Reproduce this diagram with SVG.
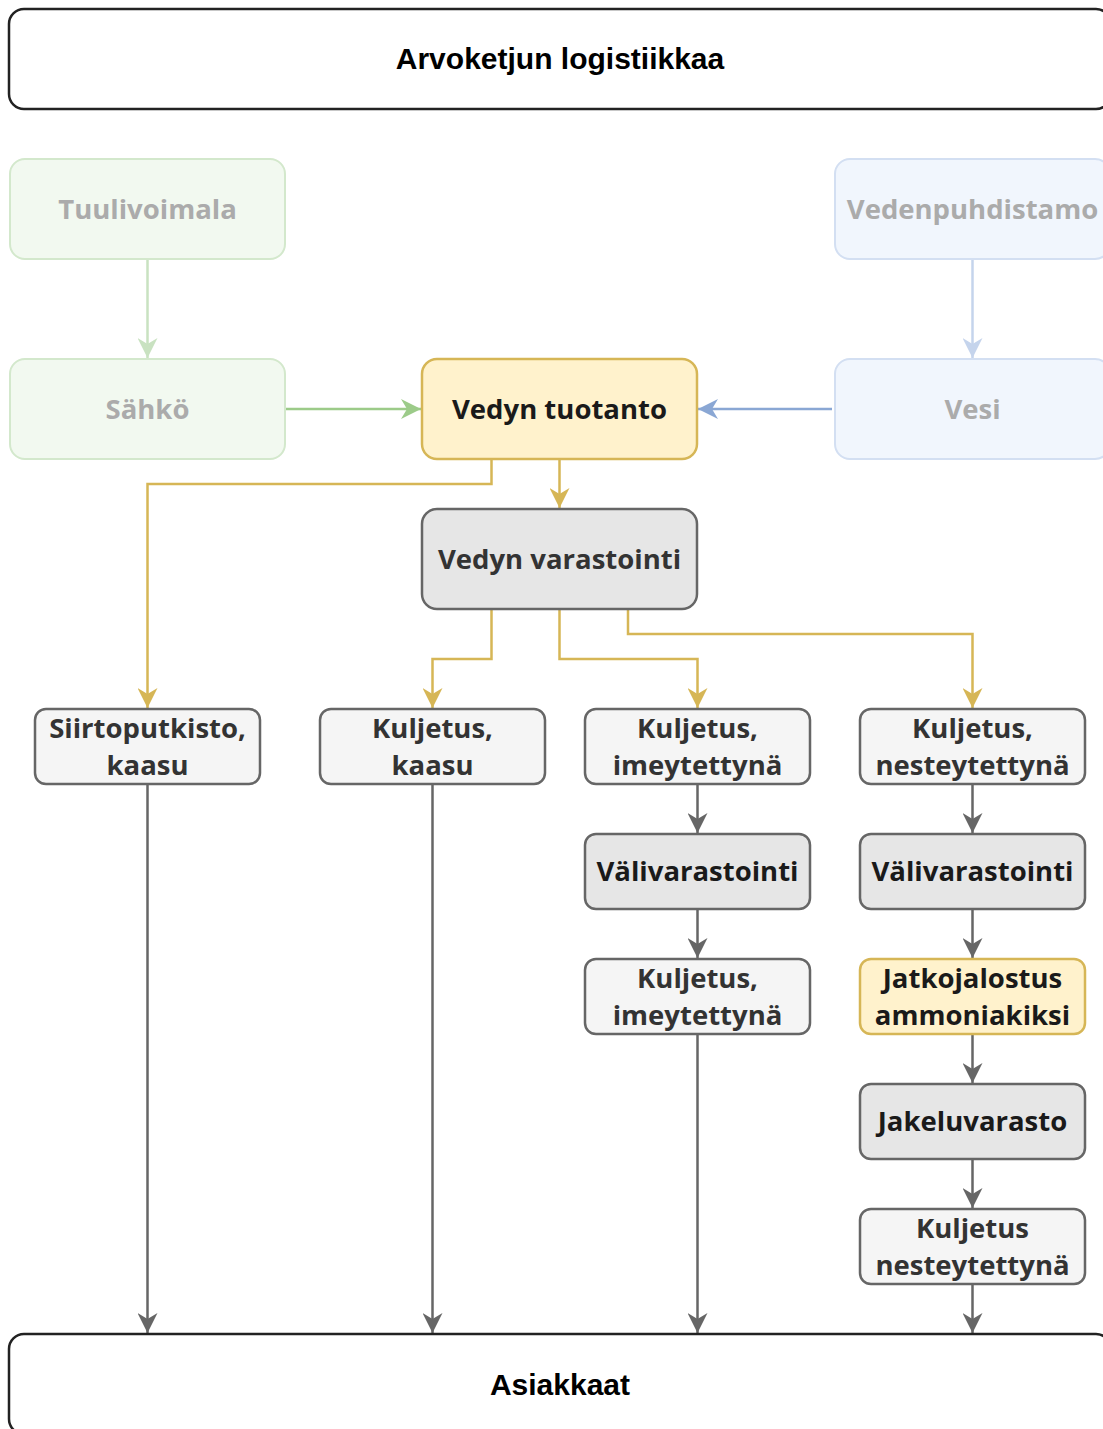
<svg xmlns="http://www.w3.org/2000/svg" width="1103" height="1429" viewBox="0 0 1103 1429">
<style>
.t{font-family:"Open Sans","DejaVu Sans",sans-serif;font-weight:700;font-size:27.5px;text-anchor:middle}
.a{font-family:"Liberation Sans",Arial,sans-serif;font-weight:700;font-size:30px;text-anchor:middle;fill:#000}
.frame{fill:#fff;stroke:#222;stroke-width:2.5}
.fg{fill:#f2f9f0;stroke:#d3e8cc;stroke-width:2}
.fb{fill:#f1f6fd;stroke:#d3dff2;stroke-width:2}
.y{fill:#fff2cc;stroke:#d6b656;stroke-width:2.5}
.g{fill:#e6e6e6;stroke:#666;stroke-width:2.5}
.l{fill:#f5f5f5;stroke:#666;stroke-width:2.5}
.ft{fill:#ababab}
.dk{fill:#1a1a1a}
.md{fill:#333}
.c{fill:none;stroke-width:2.5}
</style>
<defs>
<marker id="mGold" viewBox="0 0 20 20" refX="20" refY="10" markerWidth="20" markerHeight="20" markerUnits="userSpaceOnUse" orient="auto"><path d="M0,0 L20,10 L0,20 L6,10 Z" fill="#d6b656"/></marker>
<marker id="mGray" viewBox="0 0 20 20" refX="20" refY="10" markerWidth="20" markerHeight="20" markerUnits="userSpaceOnUse" orient="auto"><path d="M0,0 L20,10 L0,20 L6,10 Z" fill="#666"/></marker>
<marker id="mGreen" viewBox="0 0 20 20" refX="20" refY="10" markerWidth="20" markerHeight="20" markerUnits="userSpaceOnUse" orient="auto"><path d="M0,0 L20,10 L0,20 L6,10 Z" fill="#9ccb89"/></marker>
<marker id="mBlue" viewBox="0 0 20 20" refX="20" refY="10" markerWidth="20" markerHeight="20" markerUnits="userSpaceOnUse" orient="auto"><path d="M0,0 L20,10 L0,20 L6,10 Z" fill="#8aa7d4"/></marker>
<marker id="mFGreen" viewBox="0 0 20 20" refX="20" refY="10" markerWidth="20" markerHeight="20" markerUnits="userSpaceOnUse" orient="auto"><path d="M0,0 L20,10 L0,20 L6,10 Z" fill="#c9e2c1"/></marker>
<marker id="mFBlue" viewBox="0 0 20 20" refX="20" refY="10" markerWidth="20" markerHeight="20" markerUnits="userSpaceOnUse" orient="auto"><path d="M0,0 L20,10 L0,20 L6,10 Z" fill="#c5d4ec"/></marker>
</defs>
<rect width="1103" height="1429" fill="#fff"/>

<g id="connectors">
<path class="c" stroke="#c9e2c1" d="M147.5,259 V358" marker-end="url(#mFGreen)"/>
<path class="c" stroke="#9ccb89" d="M285,409 H421" marker-end="url(#mGreen)"/>
<path class="c" stroke="#c5d4ec" d="M972.5,259 V358" marker-end="url(#mFBlue)"/>
<path class="c" stroke="#8aa7d4" d="M832,409 H698" marker-end="url(#mBlue)"/>
<path class="c" stroke="#d6b656" d="M559.5,459 V508" marker-end="url(#mGold)"/>
<path class="c" stroke="#d6b656" d="M491.5,459 V484 H147.5 V708" marker-end="url(#mGold)"/>
<path class="c" stroke="#d6b656" d="M491.5,609 V659 H432.5 V708" marker-end="url(#mGold)"/>
<path class="c" stroke="#d6b656" d="M559.5,609 V659 H697.5 V708" marker-end="url(#mGold)"/>
<path class="c" stroke="#d6b656" d="M628,609 V634 H972.5 V708" marker-end="url(#mGold)"/>
<path class="c" stroke="#666" d="M147.5,784 V1333" marker-end="url(#mGray)"/>
<path class="c" stroke="#666" d="M432.5,784 V1333" marker-end="url(#mGray)"/>
<path class="c" stroke="#666" d="M697.5,784 V833" marker-end="url(#mGray)"/>
<path class="c" stroke="#666" d="M697.5,909 V958" marker-end="url(#mGray)"/>
<path class="c" stroke="#666" d="M697.5,1034 V1333" marker-end="url(#mGray)"/>
<path class="c" stroke="#666" d="M972.5,784 V833" marker-end="url(#mGray)"/>
<path class="c" stroke="#666" d="M972.5,909 V958" marker-end="url(#mGray)"/>
<path class="c" stroke="#666" d="M972.5,1034 V1083" marker-end="url(#mGray)"/>
<path class="c" stroke="#666" d="M972.5,1159 V1208" marker-end="url(#mGray)"/>
<path class="c" stroke="#666" d="M972.5,1284 V1333" marker-end="url(#mGray)"/>
</g>

<g id="title"><rect class="frame" x="9" y="9" width="1102" height="100" rx="15"/><text class="a" x="560" y="69">Arvoketjun logistiikkaa</text></g>
<g id="tuulivoimala"><rect class="fg" x="10" y="159" width="275" height="100" rx="15"/><text class="t ft" x="147.5" y="218.5">Tuulivoimala</text></g>
<g id="sahko"><rect class="fg" x="10" y="359" width="275" height="100" rx="15"/><text class="t ft" x="147.5" y="418.5">Sähkö</text></g>
<g id="vedenpuhdistamo"><rect class="fb" x="835" y="159" width="275" height="100" rx="15"/><text class="t ft" x="972.5" y="218.5">Vedenpuhdistamo</text></g>
<g id="vesi"><rect class="fb" x="835" y="359" width="275" height="100" rx="15"/><text class="t ft" x="972.5" y="418.5">Vesi</text></g>
<g id="vedyn-tuotanto"><rect class="y" x="422" y="359" width="275" height="100" rx="15"/><text class="t dk" x="559.5" y="418.5">Vedyn tuotanto</text></g>
<g id="vedyn-varastointi"><rect class="g" x="422" y="509" width="275" height="100" rx="15"/><text class="t md" x="559.5" y="568.5">Vedyn varastointi</text></g>

<g id="siirtoputkisto"><rect class="l" x="35" y="709" width="225" height="75" rx="11"/><text class="t md" x="147.5" y="738">Siirtoputkisto,</text><text class="t md" x="147.5" y="775">kaasu</text></g>
<g id="kuljetus-kaasu"><rect class="l" x="320" y="709" width="225" height="75" rx="11"/><text class="t md" x="432.5" y="738">Kuljetus,</text><text class="t md" x="432.5" y="775">kaasu</text></g>
<g id="kuljetus-imeytettyna-1"><rect class="l" x="585" y="709" width="225" height="75" rx="11"/><text class="t md" x="697.5" y="738">Kuljetus,</text><text class="t md" x="697.5" y="775">imeytettynä</text></g>
<g id="kuljetus-nesteytettyna-1"><rect class="l" x="860" y="709" width="225" height="75" rx="11"/><text class="t md" x="972.5" y="738">Kuljetus,</text><text class="t md" x="972.5" y="775">nesteytettynä</text></g>

<g id="valivarastointi-1"><rect class="g" x="585" y="834" width="225" height="75" rx="11"/><text class="t dk" x="697.5" y="881">Välivarastointi</text></g>
<g id="valivarastointi-2"><rect class="g" x="860" y="834" width="225" height="75" rx="11"/><text class="t dk" x="972.5" y="881">Välivarastointi</text></g>
<g id="kuljetus-imeytettyna-2"><rect class="l" x="585" y="959" width="225" height="75" rx="11"/><text class="t md" x="697.5" y="988">Kuljetus,</text><text class="t md" x="697.5" y="1025">imeytettynä</text></g>
<g id="jatkojalostus"><rect class="y" x="860" y="959" width="225" height="75" rx="11"/><text class="t dk" x="972.5" y="988">Jatkojalostus</text><text class="t dk" x="972.5" y="1025">ammoniakiksi</text></g>
<g id="jakeluvarasto"><rect class="g" x="860" y="1084" width="225" height="75" rx="11"/><text class="t dk" x="972.5" y="1131">Jakeluvarasto</text></g>
<g id="kuljetus-nesteytettyna-2"><rect class="l" x="860" y="1209" width="225" height="75" rx="11"/><text class="t md" x="972.5" y="1238">Kuljetus</text><text class="t md" x="972.5" y="1275">nesteytettynä</text></g>

<g id="asiakkaat"><rect class="frame" x="9" y="1334" width="1102" height="100" rx="15"/><text class="a" x="560" y="1395">Asiakkaat</text></g>
</svg>
